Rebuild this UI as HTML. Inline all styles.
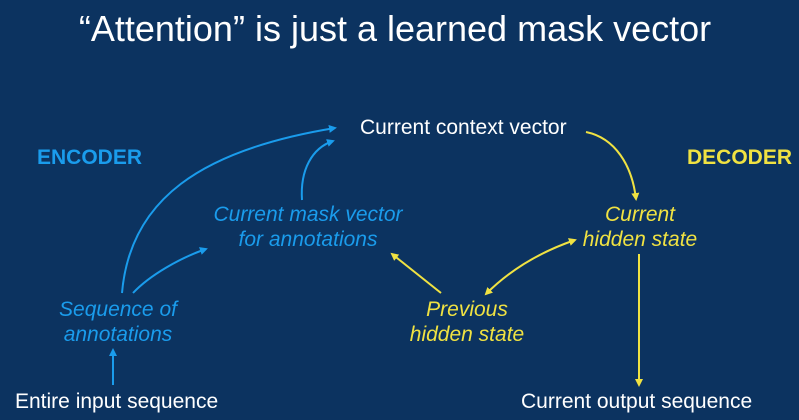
<!DOCTYPE html>
<html><head><style>
body{margin:0;width:799px;height:420px;background:#0c3360;overflow:hidden;position:relative;font-family:"Liberation Sans",sans-serif}
.t{position:absolute;white-space:nowrap;line-height:1}
.c{transform:translateX(-50%);text-align:center}
.b{color:#1a9cec;font-style:italic;font-size:21px;line-height:25px}
.y{color:#f0e242;font-style:italic;font-size:21px;line-height:25px}
.w{color:#fff;font-size:21px}
</style></head><body>
<div class="t c" style="left:395px;top:11px;color:#fff;font-size:36px">“Attention” is just a learned mask vector</div>
<div class="t w" style="left:360px;top:117px">Current context vector</div>
<div class="t" style="left:37px;top:147px;color:#1a9cec;font-weight:bold;font-size:21px">ENCODER</div>
<div class="t" style="left:687px;top:147px;color:#f0e242;font-weight:bold;font-size:21px">DECODER</div>
<div class="t c b" style="left:308px;top:202px">Current mask vector<br>for annotations</div>
<div class="t c y" style="left:640px;top:202px">Current<br>hidden state</div>
<div class="t c b" style="left:118px;top:297px">Sequence of<br>annotations</div>
<div class="t c y" style="left:467px;top:297px">Previous<br>hidden state</div>
<div class="t w" style="left:15px;top:391px">Entire input sequence</div>
<div class="t w" style="left:521px;top:391px">Current output sequence</div>
<svg width="799" height="420" style="position:absolute;left:0;top:0">
<defs>
<marker id="ab" markerWidth="8" markerHeight="8" refX="6" refY="4" orient="auto" markerUnits="userSpaceOnUse"><path d="M0,0 L8,4 L0,8 Z" fill="#1a9cec"/></marker>
<marker id="ay" markerWidth="8" markerHeight="8" refX="6" refY="4" orient="auto-start-reverse" markerUnits="userSpaceOnUse"><path d="M0,0 L8,4 L0,8 Z" fill="#f0e242"/></marker>
</defs>
<g fill="none" stroke-width="2">
<path d="M122,293 C130,200 200,150 335,128" stroke="#1a9cec" marker-end="url(#ab)"/>
<path d="M133,293 C150,275 180,258 206,249" stroke="#1a9cec" marker-end="url(#ab)"/>
<path d="M302,200 C300,170 312,148 333,141" stroke="#1a9cec" marker-end="url(#ab)"/>
<path d="M113,385 L113,350" stroke="#1a9cec" marker-end="url(#ab)"/>
<path d="M586,132 C615,138 632,165 636,199" stroke="#f0e242" marker-end="url(#ay)"/>
<path d="M639,254 L639,385" stroke="#f0e242" marker-end="url(#ay)"/>
<path d="M486,294 C510,270 540,252 575,240" stroke="#f0e242" marker-start="url(#ay)" marker-end="url(#ay)"/>
<path d="M441,293 L392,254" stroke="#f0e242" marker-end="url(#ay)"/>
</g></svg>
</body></html>
